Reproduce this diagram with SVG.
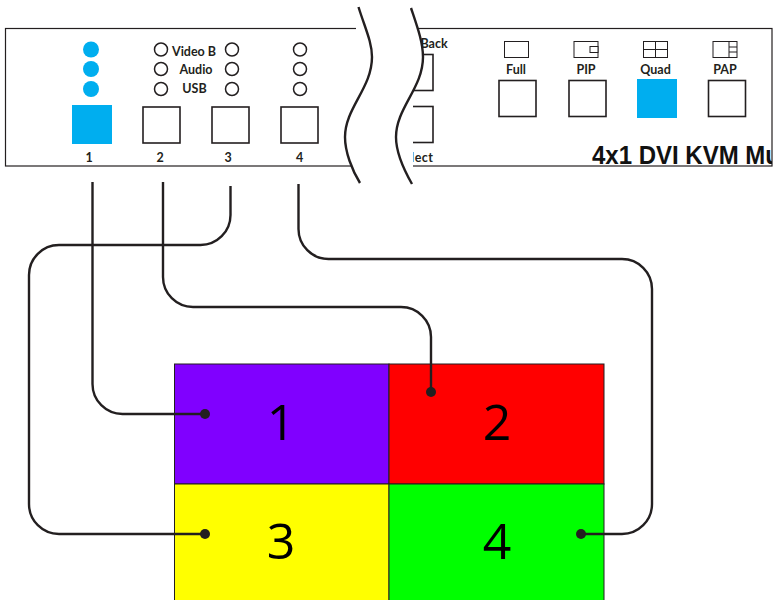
<svg xmlns="http://www.w3.org/2000/svg" width="777" height="600" viewBox="0 0 777 600">
<style>
.lb{font-family:"Lato","Liberation Sans",sans-serif;font-weight:700;font-size:12.5px;fill:#231f20;text-anchor:middle}
.big{font-family:"Open Sans","Liberation Sans",sans-serif;font-size:50px;fill:#000;text-anchor:middle}
.btn{fill:#fff;stroke:#231f20;stroke-width:1.6}
.led{fill:#fff;stroke:#231f20;stroke-width:1.5}
.on{fill:#00aeef}
.ic{fill:#fff;stroke:#231f20;stroke-width:1}
.wire{fill:none;stroke:#231f20;stroke-width:2.4}
.wave{fill:none;stroke:#231f20;stroke-width:2.4}
.cell{stroke:#231f20;stroke-width:1}
</style>
<defs><clipPath id="c"><rect x="0" y="0" width="772" height="600"/></clipPath></defs>
<rect width="777" height="600" fill="#fff"/>
<g id="panel">
<rect x="5.500" y="28.500" width="766.500" height="137.500" fill="#fff" stroke="#231f20" stroke-width="1.2"/>
</g>
<g id="port1"><circle class="on" cx="91" cy="49.500" r="8"/><circle class="on" cx="91" cy="69" r="8"/><circle class="on" cx="91" cy="89" r="8"/><rect class="on" x="72" y="105" width="40" height="39"/><text class="lb" x="89" y="162">1</text></g>
<g id="port2"><circle class="led" cx="161" cy="49.500" r="6.500"/><circle class="led" cx="161" cy="69" r="6.500"/><circle class="led" cx="161" cy="89" r="6.500"/><rect class="btn" x="143" y="107" width="37" height="36"/><text class="lb" x="160" y="162">2</text></g>
<g id="labels"><text class="lb" x="194" y="56">Video B</text><text class="lb" x="196" y="74">Audio</text><text class="lb" x="194.500" y="93">USB</text></g>
<g id="port3"><circle class="led" cx="232" cy="49.500" r="6.500"/><circle class="led" cx="232" cy="69" r="6.500"/><circle class="led" cx="232" cy="89" r="6.500"/><rect class="btn" x="212" y="107" width="37" height="36"/><text class="lb" x="228" y="162">3</text></g>
<g id="port4"><circle class="led" cx="300" cy="49.500" r="6.500"/><circle class="led" cx="300" cy="69" r="6.500"/><circle class="led" cx="300" cy="89" r="6.500"/><rect class="btn" x="281" y="107" width="37" height="36"/><text class="lb" x="299.500" y="162">4</text></g>
<g id="back-select"><rect class="btn" x="400" y="54.500" width="33" height="36"/><rect class="btn" x="400" y="106.500" width="33" height="36"/><text class="lb" x="434" y="48">Back</text><text class="lb" x="415" y="162" letter-spacing="0.500">Select</text></g>
<g id="break">
<path d="M358.500,7 C365,28 372,42 372,57 C372,88 345,108 345,137 C345,152 352,170 360,183 L412,184 C404,170 396,154 396,137 C396,108 423,88 423,57 C423,42 417,26 411,8 Z" fill="#fff"/>
<rect x="356" y="20" width="57" height="150" fill="#fff"/>
<path class="wave" d="M358.500,7 C365,28 372,42 372,57 C372,88 345,108 345,137 C345,152 352,170 360,183"/>
<path class="wave" d="M411,8 C417,26 423,42 423,57 C423,88 396,108 396,137 C396,154 404,170 412,184"/>
</g>
<g id="full"><rect class="ic" x="504.500" y="41.500" width="24" height="16"/><text class="lb" x="516" y="74">Full</text><rect class="btn" x="499" y="80.500" width="37" height="36"/></g>
<g id="pip"><rect class="ic" x="574" y="41.500" width="24" height="16"/><rect class="ic" x="590" y="46.500" width="8" height="6"/><text class="lb" x="586" y="74">PIP</text><rect class="btn" x="569" y="80.500" width="37" height="36"/></g>
<g id="quad"><rect class="ic" x="643.500" y="41.500" width="24" height="16"/><path class="ic" d="M655.500,41.500V57.500M643.500,49.500H667.500"/><text class="lb" x="655.500" y="74">Quad</text><rect class="on" x="637" y="79" width="40" height="39"/></g>
<g id="pap"><rect class="ic" x="713" y="41.500" width="24" height="16"/><path class="ic" d="M729,41.500V57.500M729,47H737M729,52H737"/><text class="lb" x="725" y="74">PAP</text><rect class="btn" x="708.500" y="80.500" width="37" height="36"/></g>
<g id="title" clip-path="url(#c)"><text x="592" y="164" font-family="'Liberation Sans',sans-serif" font-weight="700" font-size="25.500" fill="#111" textLength="188" lengthAdjust="spacingAndGlyphs">4x1 DVI KVM Mu</text></g>
<g id="cell1"><rect class="cell" x="174.500" y="364" width="214.500" height="120" fill="#8000ff"/><text class="big" x="281" y="440">1</text></g>
<g id="cell2"><rect class="cell" x="389" y="364" width="215" height="120" fill="#f00"/><text class="big" x="497" y="440">2</text></g>
<g id="cell3"><rect class="cell" x="174.500" y="484" width="214.500" height="120" fill="#ff0"/><text class="big" x="281" y="559">3</text></g>
<g id="cell4"><rect class="cell" x="389" y="484" width="215" height="120" fill="#0f0"/><text class="big" x="497" y="559">4</text></g>
<g id="connectors">
<path class="wire" d="M92.500,182V384A30,30 0 0 0 122.500,414H205"/><circle cx="205" cy="414" r="5" fill="#231f20"/>
<path class="wire" d="M163,182V277A30,30 0 0 0 193,307H401A30,30 0 0 1 431,337V392"/><circle cx="431" cy="392" r="5" fill="#231f20"/>
<path class="wire" d="M230.500,186V215A30,30 0 0 1 200.500,245H59A30,30 0 0 0 29,275V504A30,30 0 0 0 59,534H205"/><circle cx="205" cy="534" r="5" fill="#231f20"/>
<path class="wire" d="M298.500,184V229A30,30 0 0 0 328.500,259H622A30,30 0 0 1 652,289V504A30,30 0 0 1 622,534H581"/><circle cx="581" cy="534" r="5" fill="#231f20"/>
</g>
</svg>
